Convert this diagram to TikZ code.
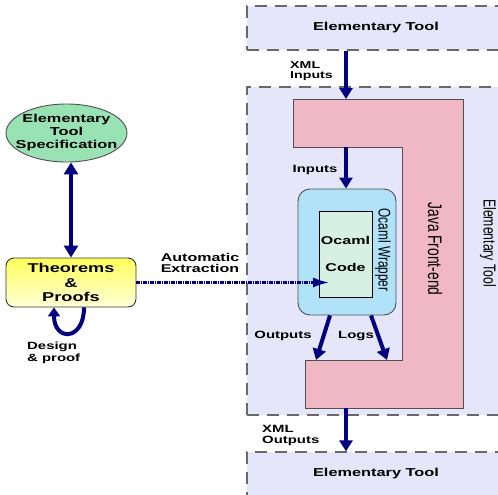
\documentclass[tikz,border=0pt]{standalone}
\usepackage{graphicx}
\usepackage{fontspec}
\setmainfont{Liberation Sans}[FakeStretch=1.42]
\newfontfamily\plainsans{Liberation Sans}
\usetikzlibrary{arrows.meta,shapes.geometric}

\definecolor{navyarrow}{RGB}{0,0,128}
\definecolor{toolfill}{RGB}{230,230,250}
\definecolor{dashgray}{RGB}{105,105,105}
\definecolor{edgegray}{RGB}{80,80,80}
\definecolor{pinkfill}{RGB}{240,184,196}
\definecolor{wrapfill}{RGB}{176,226,250}
\definecolor{codefill}{RGB}{214,240,227}
\definecolor{specfill}{RGB}{153,226,180}
\definecolor{thmtop}{RGB}{255,255,90}
\definecolor{thmbot}{RGB}{255,255,215}

% upright text turned on its side, widened across its height
\newcommand{\sidetext}[2]{\scalebox{1}[1.42]{\plainsans\fontsize{#1}{#1}\selectfont #2}}

\begin{document}
\begin{tikzpicture}[x=1pt,y=-1pt,
  toolbox/.style={draw=dashgray, line width=1.3pt, dash pattern=on 12pt off 8pt,
    fill=toolfill, minimum width=258pt, minimum height=44pt, inner sep=0pt},
  flow/.style={navyarrow, line width=4pt, -{Triangle[length=11pt,width=13pt]}},
  lbl/.style={font=\bfseries\fontsize{10.5}{11.5}\selectfont, inner sep=0pt, align=left},
  title/.style={font=\bfseries\fontsize{11.5}{13}\selectfont, inner sep=0pt, align=center}]

\clip (0,0) rectangle (498,495);

% elementary tool frames
\node[toolbox] (top) at (376,28) {};
\node[title] (toptext) at (top) {Elementary Tool};
\node[toolbox, minimum height=328pt] (mid) at (376,251) {};
\node[toolbox] (bot) at (376,474) {};
\node[title] (bottext) at (bot) {Elementary Tool};
\node[inner sep=0pt, rotate=-90] (midtext) at (488,243) {\sidetext{12.2}{Elementary Tool}};

% Java front-end block
\draw[draw=edgegray, line width=0.9pt, fill=pinkfill]
  (293,99) -- (463,99) -- (463,408) -- (305,408) -- (305,360) -- (402,360)
  -- (402,147) -- (293,147) -- cycle;
\coordinate (jtop) at (346,99);
\coordinate (jin) at (346,147);
\coordinate (jout1) at (316,360);
\coordinate (jout2) at (387,360);
\coordinate (jbot) at (346,408);
\node[inner sep=0pt, rotate=-90] (javatext) at (435,249) {\sidetext{13.8}{Java Front-end}};

% OCaml wrapper and code
\node[draw=edgegray, line width=0.9pt, fill=wrapfill, rounded corners=12pt,
  minimum width=98pt, minimum height=126pt] (wrap) at (347,252) {};
\node[draw=black, line width=0.8pt, fill=codefill, minimum width=53pt, minimum height=86pt,
  inner sep=0pt, align=center, font=\bfseries\fontsize{11.3}{27}\selectfont]
  (code) at (345.5,254) {Ocaml\\Code};
\node[inner sep=0pt, rotate=-90] (wraptext) at (383,250) {\sidetext{11.9}{Ocaml Wrapper}};
\coordinate (ctip) at (329,282);

% data flow through the tool
\draw[flow] (top.south -| jtop) -- (jtop);
\draw[flow] (jin) -- (jin |- wrap.north);
\draw[flow] ([xshift=-17pt]wrap.south) -- (jout1);
\draw[flow] ([xshift=24pt]wrap.south) -- (jout2);
\draw[flow] (jbot) -- (jbot |- bot.north);

\node[lbl, font=\bfseries\fontsize{10}{10.5}\selectfont, anchor=west] (xmlin) at (290,71) {XML\\Inputs};
\node[lbl] (inlbl) at (315,170) {Inputs};
\node[lbl] (outlbl) at (283,336) {Outputs};
\node[lbl] (loglbl) at (356,336) {Logs};
\node[lbl, anchor=west] (xmlout) at (262,435.5) {XML\\Outputs};

% specification side
\node[draw=edgegray, line width=0.9pt, fill=specfill, ellipse,
  minimum width=121pt, minimum height=58pt, inner sep=0pt] (spec) at (66.5,133) {};
\node[title] (spectext) at (spec) {Elementary\\Tool\\Specification};

\node[draw=black!80, line width=0.9pt, rounded corners=8pt, top color=thmtop, bottom color=thmbot,
  minimum width=130pt, minimum height=49pt, inner sep=0pt, align=center,
  font=\bfseries\fontsize{12.8}{14.5}\selectfont] (thm) at (71,282.5) {Theorems\\\&\\Proofs};

\draw[navyarrow, line width=4pt,
  {Triangle[length=12pt,width=14pt]}-{Triangle[length=12pt,width=14pt]}]
  (thm.north) -- (thm.north |- spec.south);

\draw[navyarrow, line width=4pt, -{Triangle[length=9pt,width=12pt]}]
  ([xshift=13pt]thm.south) .. controls ([xshift=13pt,yshift=-34pt]thm.south)
  and ([xshift=-17pt,yshift=-34pt]thm.south) .. ([xshift=-17pt]thm.south);

\node[lbl, anchor=west] (design) at (27,353) {Design\\\& proof};

% automatic extraction into the OCaml code
\draw[navyarrow, line width=2.2pt, dash pattern=on 4pt off 1pt on 1pt off 1pt,
  -{Latex[length=16pt,width=10pt]}] (thm.east) -- (thm.east -| ctip);
\node[title, font=\bfseries\fontsize{11.3}{11.5}\selectfont] (auto) at (200,263) {Automatic\\Extraction};

\end{tikzpicture}
\end{document}
